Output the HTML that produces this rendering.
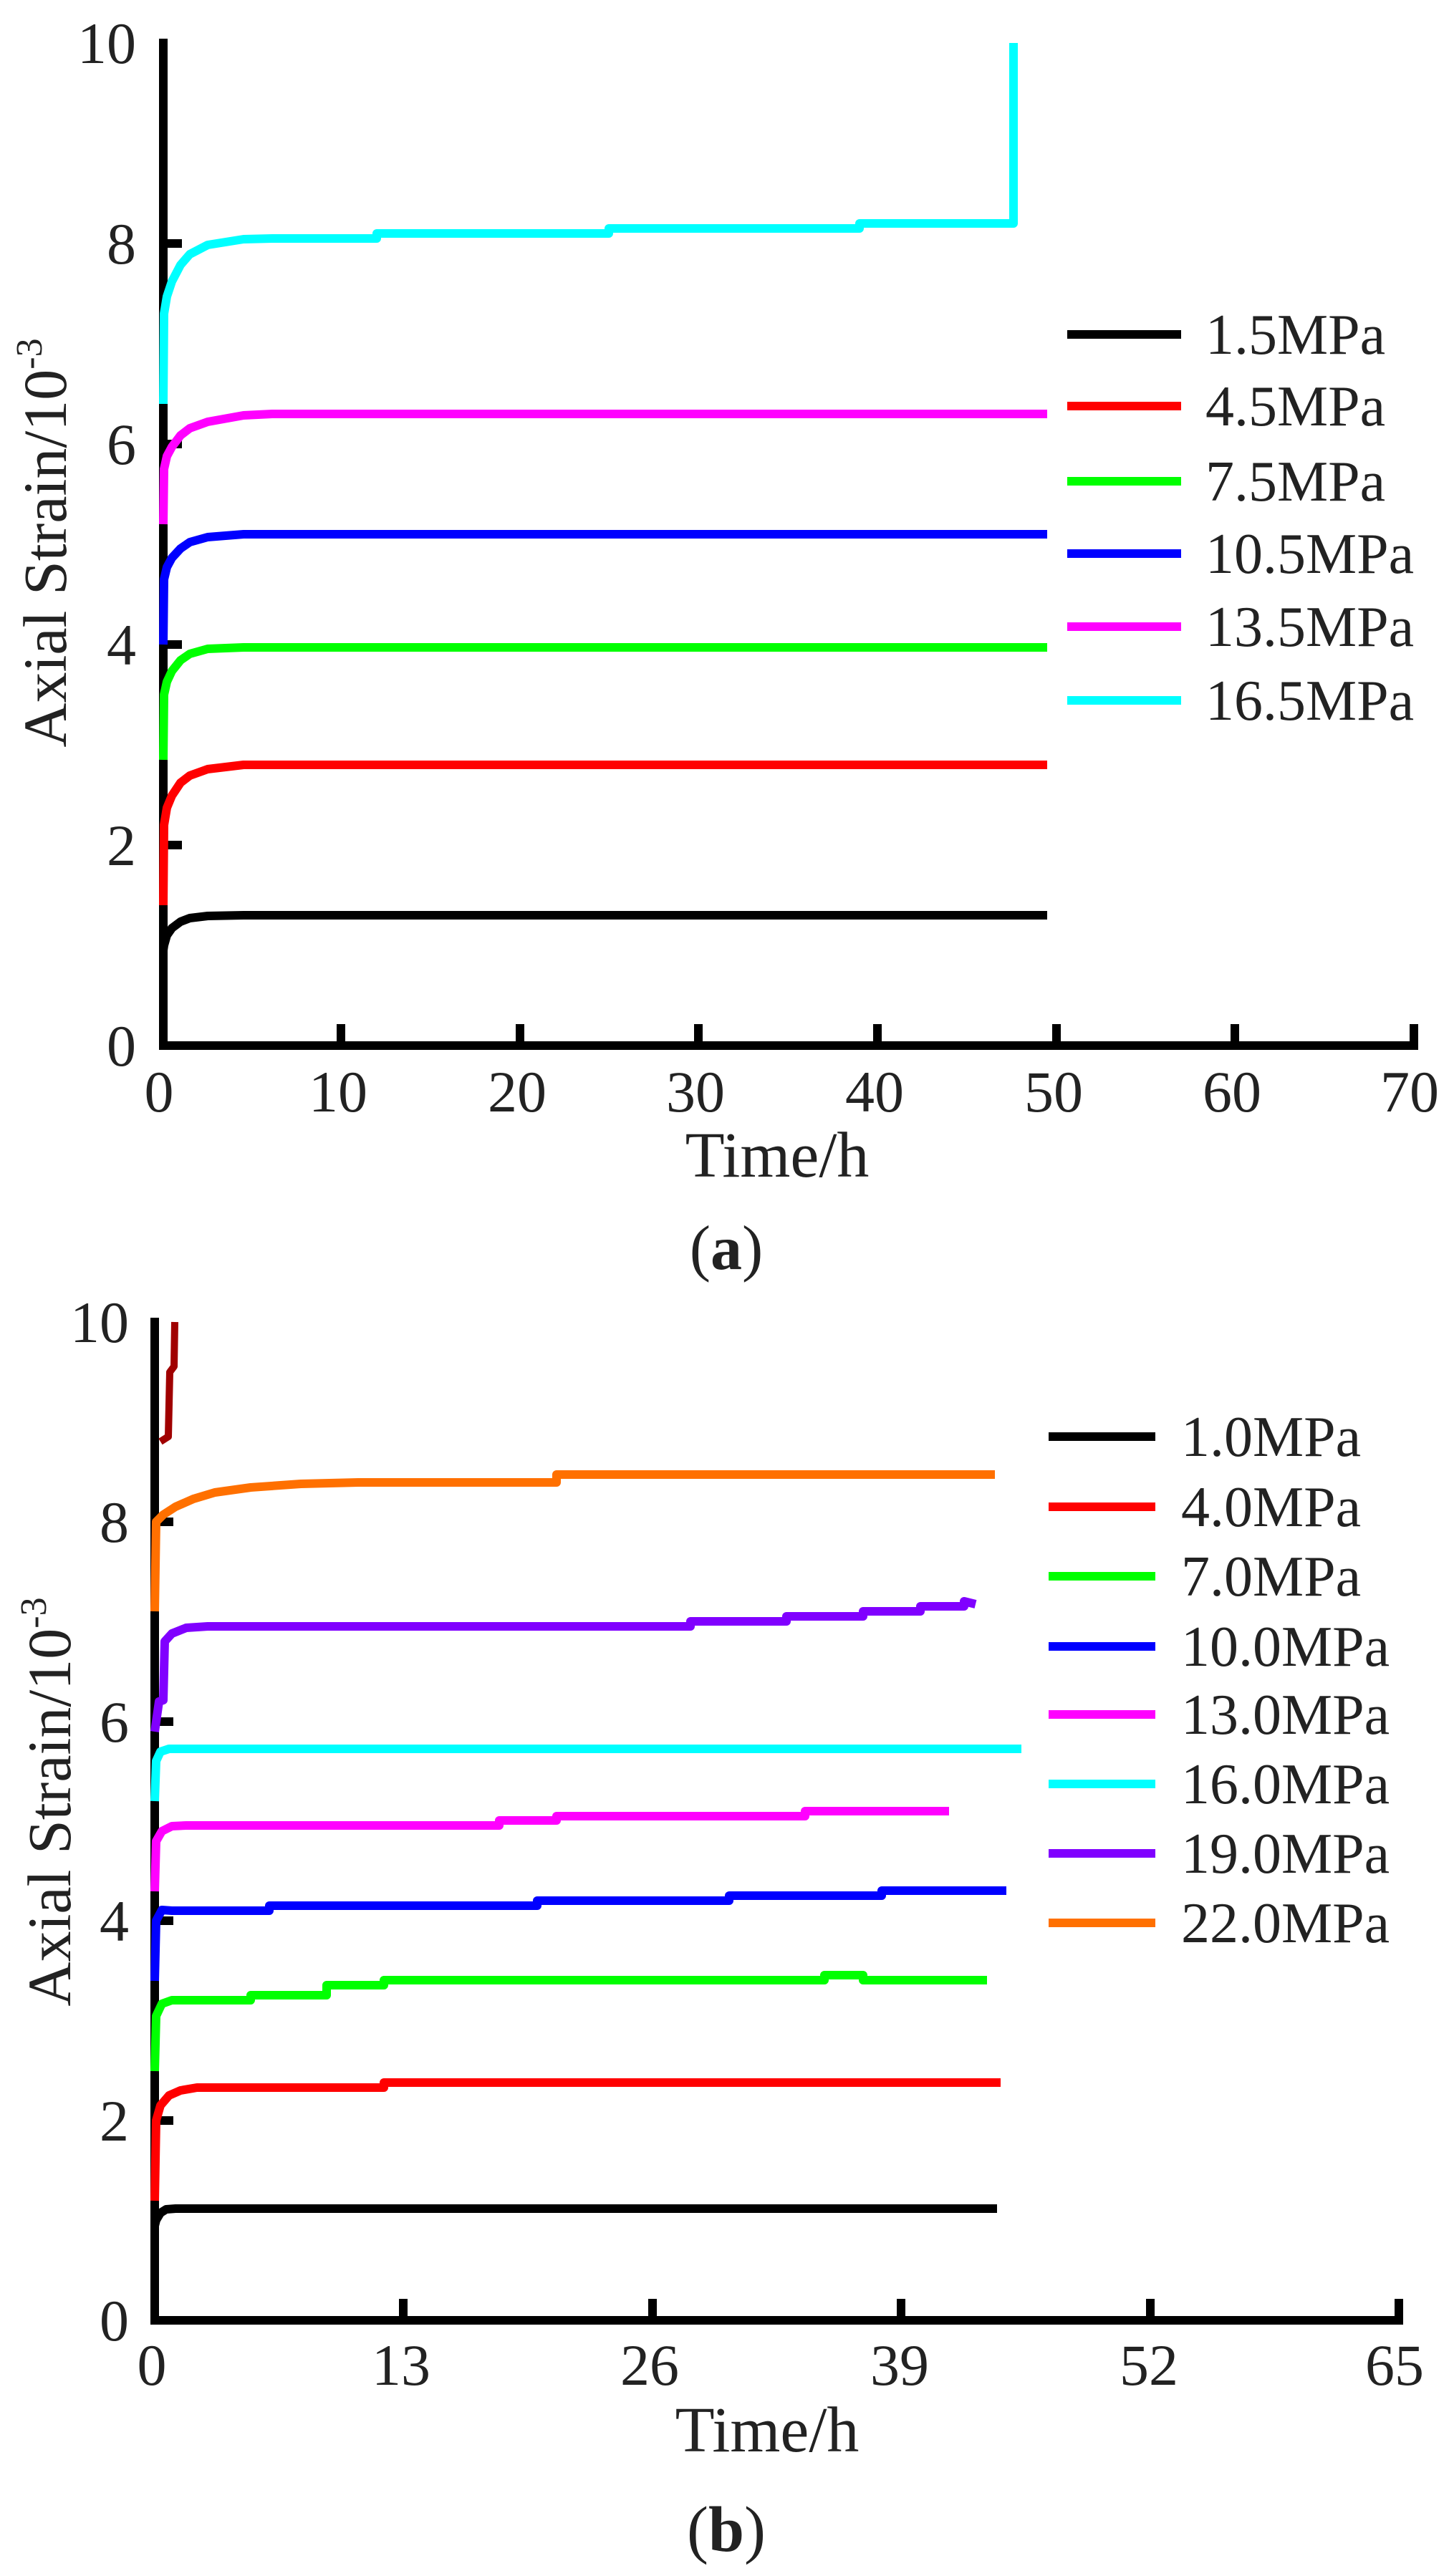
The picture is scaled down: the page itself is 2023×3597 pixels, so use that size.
<!DOCTYPE html>
<html><head><meta charset="utf-8"><style>
html,body{margin:0;padding:0;background:#fff;}
svg{display:block;}
text{font-family:"Liberation Serif",serif;fill:#222;}
</style></head><body>
<svg id="s" width="2023" height="3597" viewBox="0 0 2023 3597" xmlns="http://www.w3.org/2000/svg">
<g id="A">
  <g stroke="#000" stroke-width="12" fill="none" stroke-linecap="square">
    <path d="M228 60 V1460 H1974"/>
    <path d="M228 340 h20 M228 620 h20 M228 900 h20 M228 1180 h20"/>
    <path d="M476 1460 v-24 M726 1460 v-24 M975 1460 v-24 M1225 1460 v-24 M1475 1460 v-24 M1724 1460 v-24 M1974 1460 v-24"/>
  </g>
  <g font-size="82" text-anchor="end">
    <text x="190" y="88">10</text><text x="190" y="368">8</text><text x="190" y="648">6</text>
    <text x="190" y="928">4</text><text x="190" y="1208">2</text><text x="190" y="1488">0</text>
  </g>
  <g font-size="82" text-anchor="middle">
    <text x="222" y="1552">0</text><text x="472" y="1552">10</text><text x="722" y="1552">20</text>
    <text x="971" y="1552">30</text><text x="1221" y="1552">40</text><text x="1471" y="1552">50</text>
    <text x="1720" y="1552">60</text><text x="1968" y="1552">70</text>
  </g>
  <text x="1085" y="1643" font-size="90" text-anchor="middle">Time/h</text>
  <text transform="translate(92 758) rotate(-90)" font-size="86" text-anchor="middle">Axial Strain/10<tspan font-size="52" dy="-34">-3</tspan></text>
  <text x="1014" y="1772" font-size="88" text-anchor="middle">(<tspan font-weight="bold">a</tspan>)</text>
  <g stroke-width="12">
    <line x1="1490" y1="467" x2="1649" y2="467" stroke="#000"/>
    <line x1="1490" y1="567" x2="1649" y2="567" stroke="#f00"/>
    <line x1="1490" y1="672" x2="1649" y2="672" stroke="#0f0"/>
    <line x1="1490" y1="773" x2="1649" y2="773" stroke="#00f"/>
    <line x1="1490" y1="875" x2="1649" y2="875" stroke="#f0f"/>
    <line x1="1490" y1="978" x2="1649" y2="978" stroke="#0ff"/>
  </g>
  <g font-size="80">
    <text x="1683" y="494">1.5MPa</text><text x="1683" y="594">4.5MPa</text>
    <text x="1683" y="699">7.5MPa</text><text x="1683" y="800">10.5MPa</text>
    <text x="1683" y="902">13.5MPa</text><text x="1683" y="1005">16.5MPa</text>
  </g>
  <g fill="none" stroke-width="12" stroke-linejoin="round">
    <path stroke="#000" d="M228 1327 L229 1320 L233 1306 L240 1296 L252 1287 L265 1282 L290 1279 L340 1278 L1462 1278"/>
    <path stroke="#f00" d="M228 1264 L229 1152 L233 1128 L240 1111 L252 1093 L265 1083 L290 1074 L340 1068 L1462 1068"/>
    <path stroke="#0f0" d="M228 1061 L229 970 L233 952 L240 937 L252 922 L265 913 L290 906 L340 904 L1462 904"/>
    <path stroke="#00f" d="M228 900 L229 809 L233 792 L240 779 L252 766 L265 757 L290 750 L340 746 L1462 746"/>
    <path stroke="#f0f" d="M228 732 L229 655 L233 637 L240 624 L252 608 L265 598 L290 589 L340 580 L380 578 L1462 578"/>
    <path stroke="#0ff" d="M228 564 L229 438 L233 414 L240 393 L252 370 L265 355 L290 342 L340 334 L380 333 L526 333 L526 326 L850 326 L850 319 L1200 319 L1200 312 L1415 312 L1415 60"/>
  </g>
</g>
<g id="B">
  <g stroke="#000" stroke-width="12" fill="none" stroke-linecap="square">
    <path d="M216 1846 V3240 H1953"/>
    <path d="M216 2125 h20 M216 2404 h20 M216 2682 h20 M216 2961 h20"/>
    <path d="M563 3240 v-24 M911 3240 v-24 M1258 3240 v-24 M1606 3240 v-24 M1953 3240 v-24"/>
  </g>
  <g font-size="82" text-anchor="end">
    <text x="180" y="1874">10</text><text x="180" y="2153">8</text><text x="180" y="2432">6</text>
    <text x="180" y="2710">4</text><text x="180" y="2989">2</text><text x="180" y="3268">0</text>
  </g>
  <g font-size="82" text-anchor="middle">
    <text x="212" y="3330">0</text><text x="560" y="3330">13</text><text x="907" y="3330">26</text>
    <text x="1256" y="3330">39</text><text x="1604" y="3330">52</text><text x="1947" y="3330">65</text>
  </g>
  <text x="1071" y="3423" font-size="90" text-anchor="middle">Time/h</text>
  <text transform="translate(98 2516) rotate(-90)" font-size="86" text-anchor="middle">Axial Strain/10<tspan font-size="52" dy="-34">-3</tspan></text>
  <text x="1014" y="3562" font-size="90" text-anchor="middle">(<tspan font-weight="bold">b</tspan>)</text>
  <g stroke-width="12">
    <line x1="1464" y1="2006" x2="1613" y2="2006" stroke="#000"/>
    <line x1="1464" y1="2104" x2="1613" y2="2104" stroke="#f00"/>
    <line x1="1464" y1="2201" x2="1613" y2="2201" stroke="#0f0"/>
    <line x1="1464" y1="2299" x2="1613" y2="2299" stroke="#00f"/>
    <line x1="1464" y1="2394" x2="1613" y2="2394" stroke="#f0f"/>
    <line x1="1464" y1="2491" x2="1613" y2="2491" stroke="#0ff"/>
    <line x1="1464" y1="2588" x2="1613" y2="2588" stroke="#8000ff"/>
    <line x1="1464" y1="2685" x2="1613" y2="2685" stroke="#ff7000"/>
  </g>
  <g font-size="80">
    <text x="1649" y="2033">1.0MPa</text><text x="1649" y="2131">4.0MPa</text>
    <text x="1649" y="2228">7.0MPa</text><text x="1649" y="2326">10.0MPa</text>
    <text x="1649" y="2421">13.0MPa</text><text x="1649" y="2518">16.0MPa</text>
    <text x="1649" y="2615">19.0MPa</text><text x="1649" y="2712">22.0MPa</text>
  </g>
  <g fill="none" stroke-width="12" stroke-linejoin="round">
    <path stroke="#000" d="M216 3108 L218 3100 L224 3090 L232 3085 L245 3084 L1392 3084"/>
    <path stroke="#f00" d="M216 3073 L218 2961 L224 2940 L236 2926 L252 2919 L275 2915 L536 2915 L536 2908 L1397 2908"/>
    <path stroke="#0f0" d="M216 2892 L218 2815 L226 2798 L240 2793 L350 2793 L350 2786 L456 2786 L456 2772 L536 2772 L536 2765 L1151 2765 L1151 2758 L1205 2758 L1205 2765 L1378 2765"/>
    <path stroke="#00f" d="M216 2766 L218 2682 L226 2667 L240 2668 L376 2668 L376 2661 L750 2661 L750 2654 L1018 2654 L1018 2647 L1231 2647 L1231 2640 L1405 2640"/>
    <path stroke="#f0f" d="M216 2641 L218 2571 L226 2557 L240 2550 L260 2549 L697 2549 L697 2542 L777 2542 L777 2536 L1124 2536 L1124 2529 L1325 2529"/>
    <path stroke="#0ff" d="M216 2515 L218 2459 L224 2446 L236 2442 L1426 2442"/>
    <path stroke="#8000ff" d="M216 2418 L222 2376 L228 2374 L230 2292 L240 2281 L260 2273 L290 2271 L964 2271 L964 2264 L1098 2264 L1098 2257 L1205 2257 L1205 2250 L1285 2250 L1285 2243 L1346 2243 L1346 2236 L1362 2240"/>
    <path stroke="#ff7000" d="M216 2250 L218 2125 L228 2115 L245 2104 L270 2093 L300 2084 L350 2077 L420 2072 L500 2070 L777 2070 L777 2059 L1389 2059"/>
    <path stroke="#a00000" stroke-width="10" d="M224 2013 L235 2006 L237 1916 L243 1908 L244 1846"/>
  </g>
</g>
</svg>
</body></html>
